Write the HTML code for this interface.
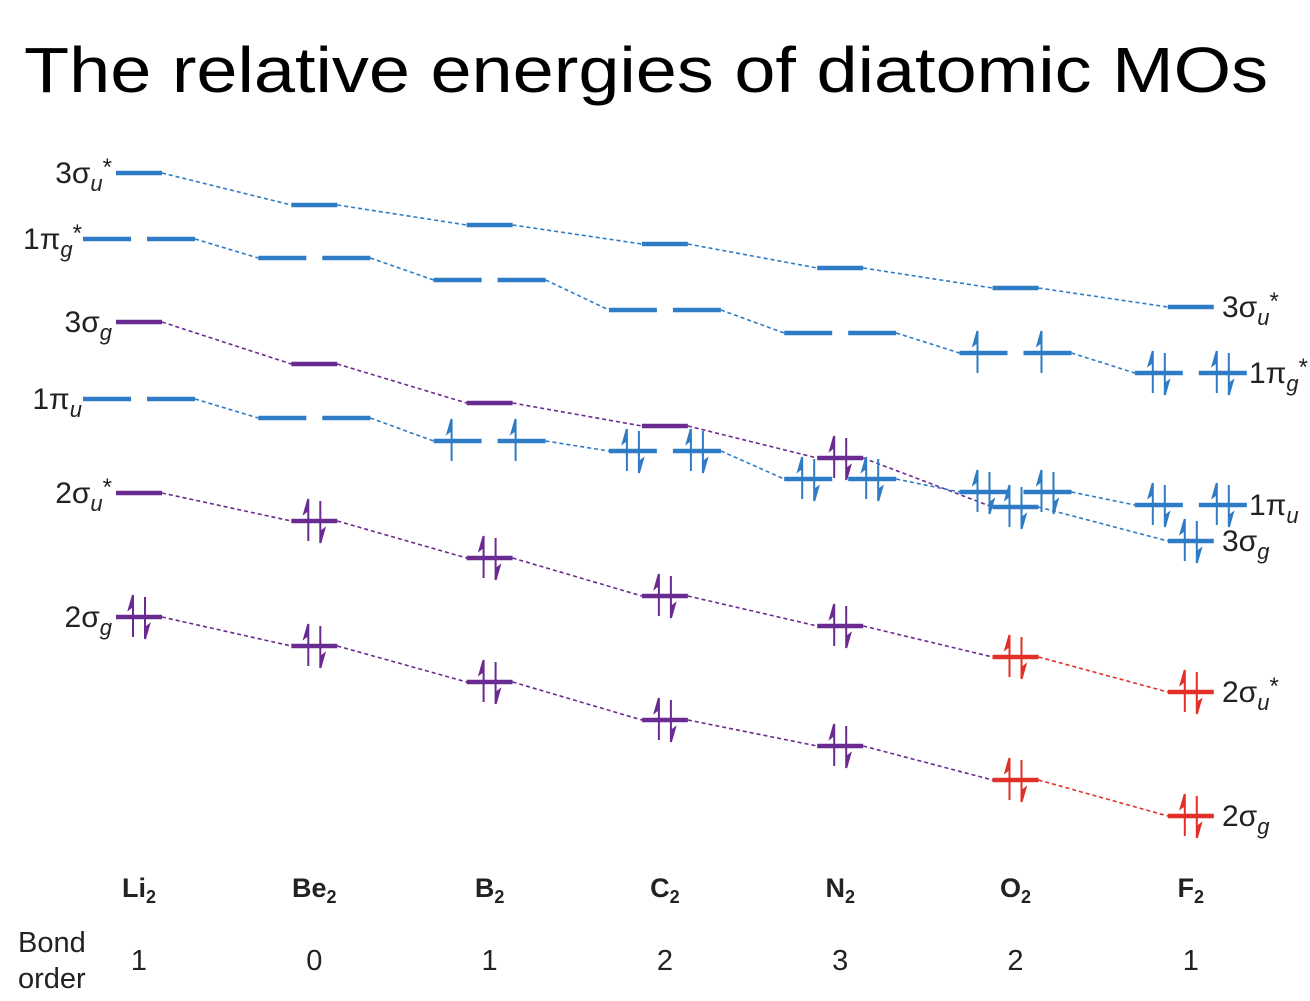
<!DOCTYPE html>
<html><head><meta charset="utf-8"><style>
body{margin:0;background:#fff;width:1310px;height:996px;overflow:hidden;font-family:"Liberation Sans",sans-serif}
svg text{font-family:"Liberation Sans",sans-serif}
</style></head><body>
<svg id="chart" width="1310" height="996" viewBox="0 0 1310 996" xmlns="http://www.w3.org/2000/svg">
<text x="24" y="92" font-size="64" fill="#000" textLength="1244" lengthAdjust="spacingAndGlyphs">The relative energies of diatomic MOs</text>
<g id="g"></g>
</svg>
<script>
const molecules=["Li","Be","B","C","N","O","F"];
const bondOrders=["1","0","1","2","3","2","1"];
const levelNames=["3σu*","1πg*","3σg","1πu","2σu*","2σg"];
const yS3u=[173,205,225,244,268,288,307];
const yP1g=[239,258,280,310,333,353,373];
const yS3g=[322,364,403,426,458,507,541];
const yP1u=[399,418,441,451,479,492,505];
const yS2u=[493,521,558,596,626,657,692];
const yS2g=[617,646,682,720,746,780,816];
// electrons per orbital (0 empty, 1 up, 2 pair)
const eS3u=[0,0,0,0,0,0,0];
const eP1g=[0,0,0,0,0,1,2];
const eS3g=[0,0,0,0,2,2,2];
const eP1u=[0,0,1,2,2,2,2];
const eS2u=[0,2,2,2,2,2,2];
const eS2g=[2,2,2,2,2,2,2];
const B="#2e7bc6",P="#6a2b91",R="#e23029";
const xc=i=>139+i*175.3;
const g=document.getElementById('g');
const NS="http://www.w3.org/2000/svg";
function mk(t,a){const e=document.createElementNS(NS,t);for(const k in a)e.setAttribute(k,a[k]);g.appendChild(e);return e;}
function arrows(x,y,n,c){
  const u=mk('path',{d:`M${x-6} ${y+20}V${y-22}L${x-10} ${y-8}L${x-6} ${y-11}`,stroke:c,'stroke-width':2,fill:c});
  
  
  if(n>1){const d=mk('path',{d:`M${x+6} ${y-20}V${y+22}L${x+10} ${y+8}L${x+6} ${y+11}`,stroke:c,'stroke-width':2,fill:c});
  
  }
}
const levels=[
 {ys:yS3u,es:eS3u,pi:false,col:i=>B,name:'sigma3u-star'},
 {ys:yP1g,es:eP1g,pi:true,col:i=>B,name:'pi1g-star'},
 {ys:yS3g,es:eS3g,pi:false,col:i=>i>=5?B:P,name:'sigma3g'},
 {ys:yP1u,es:eP1u,pi:true,col:i=>B,name:'pi1u'},
 {ys:yS2u,es:eS2u,pi:false,col:i=>i>=5?R:P,name:'sigma2u-star'},
 {ys:yS2g,es:eS2g,pi:false,col:i=>i>=5?R:P,name:'sigma2g'}];
levels.forEach(L=>{
  const hw=L.pi?56:23;
  for(let i=0;i<7;i++){
    const x=xc(i),y=L.ys[i],c=L.col(i);
    if(i<6){const dl=mk('line',{x1:x+hw,y1:y,x2:xc(i+1)-hw,y2:L.ys[i+1],stroke:L.col(i),'stroke-width':1.6,'stroke-dasharray':'4 3'});
      
      }
    const segs=L.pi?[[x-56,x-8],[x+8,x+56]]:[[x-23,x+23]];
    segs.forEach(s=>{
      const l=mk('line',{x1:s[0],y1:y,x2:s[1],y2:y,stroke:c,'stroke-width':4.5});
      
      
      if(L.es[i])arrows((s[0]+s[1])/2,y,L.es[i],c);
    });
  }
});
function lab(x,y,num,sym,sub,star,anchor){
  const t=mk('text',{x:x,y:y+10,'font-size':30,'text-anchor':anchor,fill:'#222'});
  
  
  t.innerHTML=`${num}${sym}<tspan font-size="22" font-style="italic" dy="8">${sub}</tspan>`+(star?`<tspan dy="-16" font-size="24">*</tspan>`:'');
}
lab(112,yS3u[0],'3','σ','u',1,'end');
lab(82,yP1g[0],'1','π','g',1,'end');
lab(112,yS3g[0],'3','σ','g',0,'end');
lab(82,yP1u[0],'1','π','u',0,'end');
lab(112,yS2u[0],'2','σ','u',1,'end');
lab(112,yS2g[0],'2','σ','g',0,'end');
lab(1222,yS3u[6],'3','σ','u',1,'start');
lab(1249,yP1g[6],'1','π','g',1,'start');
lab(1249,yP1u[6],'1','π','u',0,'start');
lab(1222,yS3g[6],'3','σ','g',0,'start');
lab(1222,yS2u[6],'2','σ','u',1,'start');
lab(1222,yS2g[6],'2','σ','g',0,'start');
molecules.forEach((m,i)=>{
  const t=mk('text',{x:xc(i),y:897,'font-size':27,'font-weight':'bold','text-anchor':'middle',fill:'#222'});
  
  
  t.innerHTML=`${m}<tspan font-size="18" dy="6">2</tspan>`;
  const b=mk('text',{x:xc(i),y:970,'font-size':29,'text-anchor':'middle',fill:'#222'});
  
  
  b.textContent=bondOrders[i];
});
const b1=mk('text',{x:18,y:952,'font-size':29,fill:'#222'});b1.textContent='Bond';


const b2=mk('text',{x:18,y:988,'font-size':29,fill:'#222'});b2.textContent='order';


</script>
</body></html>
